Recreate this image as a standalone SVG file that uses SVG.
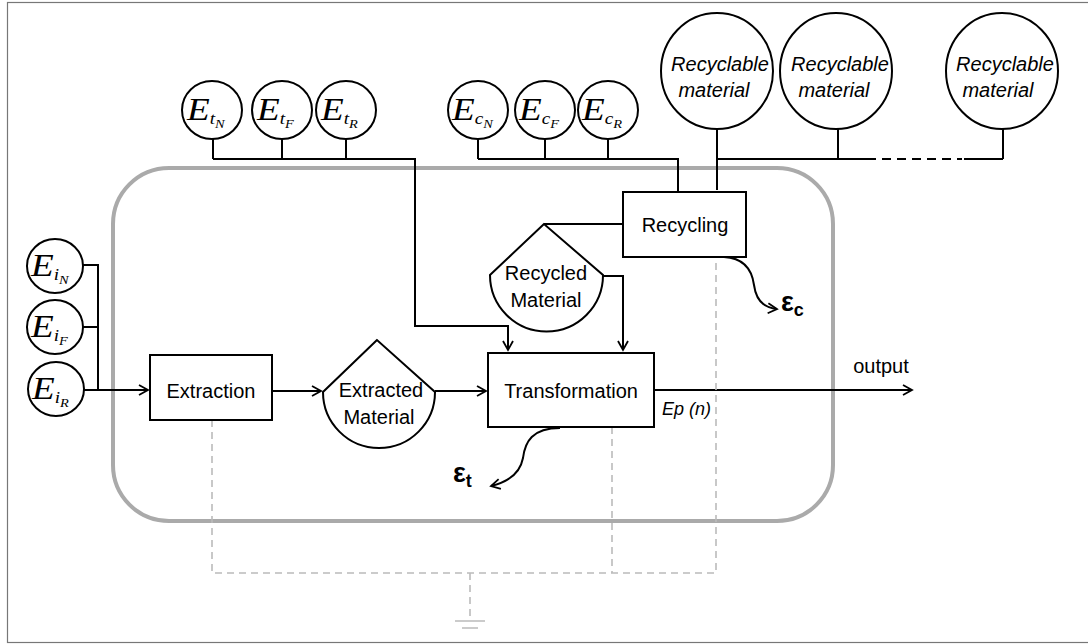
<svg xmlns="http://www.w3.org/2000/svg" width="1088" height="644" viewBox="0 0 1088 644">
<style>
.frame{fill:none;stroke:#777;stroke-width:1.2}
.sys{fill:none;stroke:#aaa;stroke-width:4}
.box{fill:#fff;stroke:#000;stroke-width:2}
.ln{fill:none;stroke:#000;stroke-width:2}
.dash{fill:none;stroke:#bbb;stroke-width:1.6;stroke-dasharray:7 5}
.gnd{fill:none;stroke:#bbb;stroke-width:1.6}
.lbl{font-family:"Liberation Sans",Arial,sans-serif;font-size:20px;fill:#000;text-anchor:middle}
.it{font-style:italic}
.E{font-family:"Liberation Serif","Times New Roman",serif;font-style:italic;fill:#000;font-size:31px}
.s1{font-size:16px}
.s2{font-size:12px}
.eps{font-family:"Liberation Sans",Arial,sans-serif;font-weight:bold;fill:#000;font-size:27px}
</style>
<defs>
<marker id="ar" markerUnits="userSpaceOnUse" markerWidth="14" markerHeight="14" refX="10" refY="6" orient="auto">
<path d="M1,1 L10,6 L1,11" fill="none" stroke="#000" stroke-width="1.8"/>
</marker>
</defs>
<rect class="frame" x="7.5" y="2.5" width="1090" height="640"/>
<rect class="sys" x="113" y="168" width="720" height="353" rx="56" ry="56"/>

<g id="connectors">
<path class="ln" d="M213 139 V159 M282 139 V159 M346 139 V159"/>
<path class="ln" d="M213 159 H415 V326 H508 V350" marker-end="url(#ar)"/>
<path class="ln" d="M478 139 V159 M545 139 V159 M608 139 V159"/>
<path class="ln" d="M478 159 H678 V192"/>
<path class="ln" d="M717 128 V190 M838 128 V159 M1003 128 V159"/>
<path class="ln" d="M717 159 H867 M964 159 H1003"/>
<path class="ln" d="M867 159 H962" stroke-dasharray="9 6"/>
<path class="ln" d="M83 265 H98 V390 M83 327 H98"/>
<path class="ln" d="M84 390 H148" marker-end="url(#ar)"/>
<path class="ln" d="M272 391 H321" marker-end="url(#ar)"/>
<path class="ln" d="M435 391 H486" marker-end="url(#ar)"/>
<path class="ln" d="M544 224 H623"/>
<path class="ln" d="M603 276 H623 V350" marker-end="url(#ar)"/>
<path class="ln" d="M654 390 H912" marker-end="url(#ar)"/>
<path class="ln" d="M560 428 C532 428 525 442 523 458 C520 474 508 482 491 486" marker-end="url(#ar)"/>
<path class="ln" d="M724 257 C744 258 752 270 754 285 C756 300 764 308 777 309" marker-end="url(#ar)"/>
<path class="dash" d="M212 420 V573 H716 V257 M612 427 V573 M470 573 V621"/>
<path class="gnd" d="M455 621 H485 M462 628 H478"/>
</g>

<g id="Et_N"><ellipse class="box" cx="212" cy="110" rx="30" ry="29"/>
<text class="E" transform="translate(187,120) scale(1.2,1)">E<tspan class="s1" dy="4">t</tspan><tspan class="s2" dy="4">N</tspan></text></g>
<g id="Et_F"><ellipse class="box" cx="282" cy="110" rx="30" ry="29"/>
<text class="E" transform="translate(257,120) scale(1.2,1)">E<tspan class="s1" dy="4">t</tspan><tspan class="s2" dy="4">F</tspan></text></g>
<g id="Et_R"><ellipse class="box" cx="346" cy="110" rx="30" ry="29"/>
<text class="E" transform="translate(321,120) scale(1.2,1)">E<tspan class="s1" dy="4">t</tspan><tspan class="s2" dy="4">R</tspan></text></g>

<g id="Ec_N"><ellipse class="box" cx="478" cy="110" rx="30" ry="29"/>
<text class="E" transform="translate(452,120) scale(1.2,1)">E<tspan class="s1" dy="4">c</tspan><tspan class="s2" dy="4">N</tspan></text></g>
<g id="Ec_F"><ellipse class="box" cx="545" cy="110" rx="30" ry="29"/>
<text class="E" transform="translate(519,120) scale(1.2,1)">E<tspan class="s1" dy="4">c</tspan><tspan class="s2" dy="4">F</tspan></text></g>
<g id="Ec_R"><ellipse class="box" cx="608" cy="110" rx="30" ry="29"/>
<text class="E" transform="translate(582,120) scale(1.2,1)">E<tspan class="s1" dy="4">c</tspan><tspan class="s2" dy="4">R</tspan></text></g>

<g id="Ei_N"><ellipse class="box" cx="55" cy="266" rx="28" ry="27"/>
<text class="E" transform="translate(31,276) scale(1.2,1)">E<tspan class="s1" dy="4">i</tspan><tspan class="s2" dy="4">N</tspan></text></g>
<g id="Ei_F"><ellipse class="box" cx="55" cy="327" rx="28" ry="27"/>
<text class="E" transform="translate(31,337) scale(1.2,1)">E<tspan class="s1" dy="4">i</tspan><tspan class="s2" dy="4">F</tspan></text></g>
<g id="Ei_R"><ellipse class="box" cx="56" cy="389" rx="28" ry="27"/>
<text class="E" transform="translate(32,399) scale(1.2,1)">E<tspan class="s1" dy="4">i</tspan><tspan class="s2" dy="4">R</tspan></text></g>

<g id="recyclable1"><ellipse class="box" cx="717" cy="71" rx="56" ry="58"/>
<text class="lbl it" x="720" y="71">Recyclable</text><text class="lbl it" x="714" y="97">material</text></g>
<g id="recyclable2"><ellipse class="box" cx="836" cy="71" rx="56" ry="58"/>
<text class="lbl it" x="840" y="71">Recyclable</text><text class="lbl it" x="834" y="97">material</text></g>
<g id="recyclable3"><ellipse class="box" cx="1002" cy="71" rx="56" ry="58"/>
<text class="lbl it" x="1005" y="71">Recyclable</text><text class="lbl it" x="998" y="97">material</text></g>

<g id="recycling"><rect class="box" x="623" y="192" width="123" height="65"/>
<text class="lbl" x="685" y="232">Recycling</text></g>

<g id="recycled"><path class="box" d="M544 224 L490 275 A56.5 56.5 0 0 0 603 275 Z"/>
<text class="lbl" x="546" y="280">Recycled</text><text class="lbl" x="546" y="307">Material</text></g>

<g id="extraction"><rect class="box" x="150" y="355" width="122" height="65"/>
<text class="lbl" x="211" y="398">Extraction</text></g>

<g id="extracted"><path class="box" d="M377 340 L323 392 A56 56 0 0 0 435 392 Z"/>
<text class="lbl" x="381" y="397">Extracted</text><text class="lbl" x="379" y="424">Material</text></g>

<g id="transformation"><rect class="box" x="488" y="353" width="166" height="74"/>
<text class="lbl" x="571" y="398">Transformation</text></g>

<g id="labels">
<text class="lbl" x="881" y="373">output</text>
<text class="lbl it" x="662" y="415" style="text-anchor:start;font-size:18px">Ep (n)</text>
<text class="eps" x="453" y="482">ε<tspan font-size="18" dy="5">t</tspan></text>
<text class="eps" x="781" y="311">ε<tspan font-size="18" dy="5">c</tspan></text>
</g>
</svg>
